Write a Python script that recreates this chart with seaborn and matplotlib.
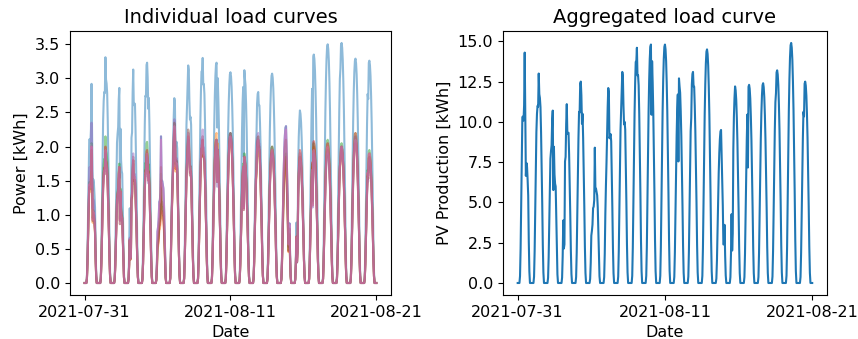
import numpy as np
import pandas as pd
import matplotlib
matplotlib.use("Agg")
import matplotlib.pyplot as plt
import seaborn as sns

# ---------------- data ----------------
tick_labels = ["2021-07-31", "2021-08-11", "2021-08-21"]
n_days = 21

# clear-sky shape of one day, hours 00..23 (fraction of the daily peak)
day_profile = [0, 0, 0, 0, 0.03, 0.15, 0.35, 0.55, 0.72, 0.85, 0.94, 0.99,
               1.0, 0.98, 0.93, 0.84, 0.72, 0.56, 0.38, 0.18, 0.05, 0, 0, 0]

# daily peak of the aggregated curve [kWh]
agg_peak = [14.3, 13.0, 10.7, 11.1, 12.5, 8.4, 12.1, 13.1, 14.6, 14.8, 14.8,
            12.7, 13.1, 14.5, 9.5, 12.2, 12.3, 12.4, 13.2, 14.9, 12.5]

# cloud factors for hours 07..17 of each day
cloud_hours = list(range(7, 18))
cloud = [
    [1, 1, 0.85, 0.75, 0.78, 1.0, 0.72, 0.5, 0.62, 0.7, 0.8],
    [1, 1, 0.95, 0.9, 0.85, 1.0, 0.92, 0.95, 1, 1, 1],
    [1, 1, 0.9, 0.85, 0.95, 1.0, 0.55, 0.85, 0.75, 0.8, 1],
    [0.35, 0.3, 0.8, 0.75, 0.9, 1.0, 0.85, 0.9, 1, 1, 1],
    [1, 1, 1, 0.9, 1, 1, 0.95, 0.85, 1, 1, 1],
    [0.7, 0.6, 0.65, 0.6, 0.62, 1.0, 0.7, 0.75, 0.8, 0.9, 1],
    [0.9, 0.85, 0.9, 0.95, 1.0, 0.97, 0.75, 0.8, 0.9, 1, 1],
    [1, 1, 0.95, 0.95, 1.0, 0.97, 0.85, 0.8, 0.9, 1, 1],
    [1, 1, 1, 1, 0.95, 1.0, 0.9, 0.95, 1, 1, 1],
    [1, 1, 1, 1, 1, 1, 0.72, 1, 1, 1, 1],
    [1, 1, 1, 1, 1, 1, 1, 1, 1, 1, 1],
    [1, 1, 1, 0.98, 0.6, 1.0, 0.98, 1, 1, 1, 1],
    [1, 1, 0.92, 1, 1, 1, 0.95, 1, 1, 1, 1],
    [1, 1, 1, 1, 1, 1, 1, 1, 1, 1, 1],
    [1, 1, 1, 1, 1, 1, 0.85, 0.75, 0.6, 0.35, 0.45],
    [0.3, 0.35, 0.8, 0.9, 0.95, 1.0, 1, 1, 1, 1, 1],
    [1, 1, 1, 0.62, 1, 1, 1, 1, 1, 1, 1],
    [1, 1, 1, 1, 1, 1, 1, 1, 1, 1, 1],
    [1, 1, 1, 0.95, 1, 1, 1, 1, 1, 1, 1],
    [1, 1, 1, 1, 1, 1, 1, 1, 1, 1, 1],
    [1, 1, 1, 0.88, 1, 1, 1, 1, 1, 1, 1],
]

# daily peak of each individual installation [kWh]
peak_c0 = [2.92, 3.31, 2.86, 3.13, 3.23, 2.15, 2.71, 3.19, 3.30, 3.23, 3.09,
           3.12, 2.80, 3.07, 2.30, 2.53, 3.35, 3.50, 3.52, 3.29, 3.26]
peak_c1 = [1.90, 1.90, 1.60, 1.75, 1.90, 1.40, 2.20, 2.10, 2.10, 2.20, 2.10,
           1.80, 2.00, 1.90, 1.80, 1.85, 2.00, 2.00, 1.95, 2.20, 1.85]
peak_c2 = [2.05, 2.15, 1.75, 1.85, 2.07, 1.60, 2.30, 2.20, 2.15, 2.10, 2.20,
           1.90, 2.10, 2.00, 1.90, 1.90, 2.05, 2.10, 2.05, 2.10, 1.95]
peak_c3 = [2.00, 2.00, 1.70, 1.80, 1.95, 1.50, 2.25, 2.15, 2.10, 2.10, 2.15,
           1.85, 2.10, 1.95, 1.85, 1.95, 2.08, 2.05, 2.00, 2.05, 1.90]
peak_c4 = [2.35, 1.90, 1.60, 1.90, 1.85, 2.15, 2.40, 2.10, 2.25, 2.00, 2.20,
           1.80, 2.20, 1.90, 2.30, 1.80, 1.90, 1.90, 2.00, 2.15, 1.80]
peak_c5 = [1.95, 1.95, 1.70, 1.80, 1.90, 1.70, 2.35, 2.25, 2.10, 2.10, 2.20,
           1.85, 2.15, 2.00, 2.10, 1.85, 1.95, 1.95, 2.00, 2.20, 1.85]
peak_c6 = [2.00, 1.95, 1.70, 1.85, 1.90, 2.10, 2.30, 2.20, 2.15, 2.10, 2.15,
           1.85, 2.10, 1.95, 2.25, 1.90, 1.95, 2.00, 2.00, 2.10, 1.90]
peaks = [peak_c0, peak_c1, peak_c2, peak_c3, peak_c4, peak_c5, peak_c6]

# ---------------- build hourly tables ----------------
prof = np.array(day_profile, dtype=float)
shape = np.zeros(n_days * 24 + 1)  # per-day shape, 1.0 at the day's peak
for d in range(n_days):
    day = prof.copy()
    for h, f in zip(cloud_hours, cloud[d]):
        day[h] *= f
    shape[d * 24:(d + 1) * 24] = day / day.max()

t = np.arange(len(shape))
agg = shape * np.append(np.repeat(agg_peak, 24), 0.0)

frames = []
for s, pk in enumerate(peaks):
    scale = np.append(np.repeat(pk, 24), 0.0)
    frames.append(pd.DataFrame({"t": t, "power": shape * scale, "series": f"s{s}"}))
indiv = pd.concat(frames, ignore_index=True)
agg_df = pd.DataFrame({"t": t, "power": agg})

# ---------------- plot ----------------
plt.rcParams["font.family"] = ["DejaVu Sans"]
FS = 11.5

fig = plt.figure(figsize=(8.58, 3.39), dpi=100)
ax1 = fig.add_axes([0.0816, 0.1298, 0.374, 0.779])
ax2 = fig.add_axes([0.5862, 0.1298, 0.3776, 0.779])

palette = sns.color_palette("tab10", 7)
sns.lineplot(data=indiv, x="t", y="power", hue="series", palette=palette,
             alpha=0.5, legend=False, ax=ax1, linewidth=1.5)
sns.lineplot(data=agg_df, x="t", y="power", color="#1f77b4", ax=ax2, linewidth=1.5)

ticks = [0, len(t) // 2, len(t) - 1]
for ax in (ax1, ax2):
    ax.set_xticks(ticks)
    ax.set_xticklabels(tick_labels)
    ax.tick_params(labelsize=FS)
    ax.set_xlabel("Date", fontsize=FS)

ax1.set_title("Individual load curves", fontsize=14)
ax1.set_ylabel("Power [kWh]", fontsize=FS)
ax1.set_yticks(np.arange(0, 3.51, 0.5))
ax2.set_title("Aggregated load curve", fontsize=14)
ax2.set_ylabel("PV Production [kWh]", fontsize=FS)
ax2.set_yticks(np.arange(0, 15.01, 2.5))

fig.savefig("out.png", dpi=100)
